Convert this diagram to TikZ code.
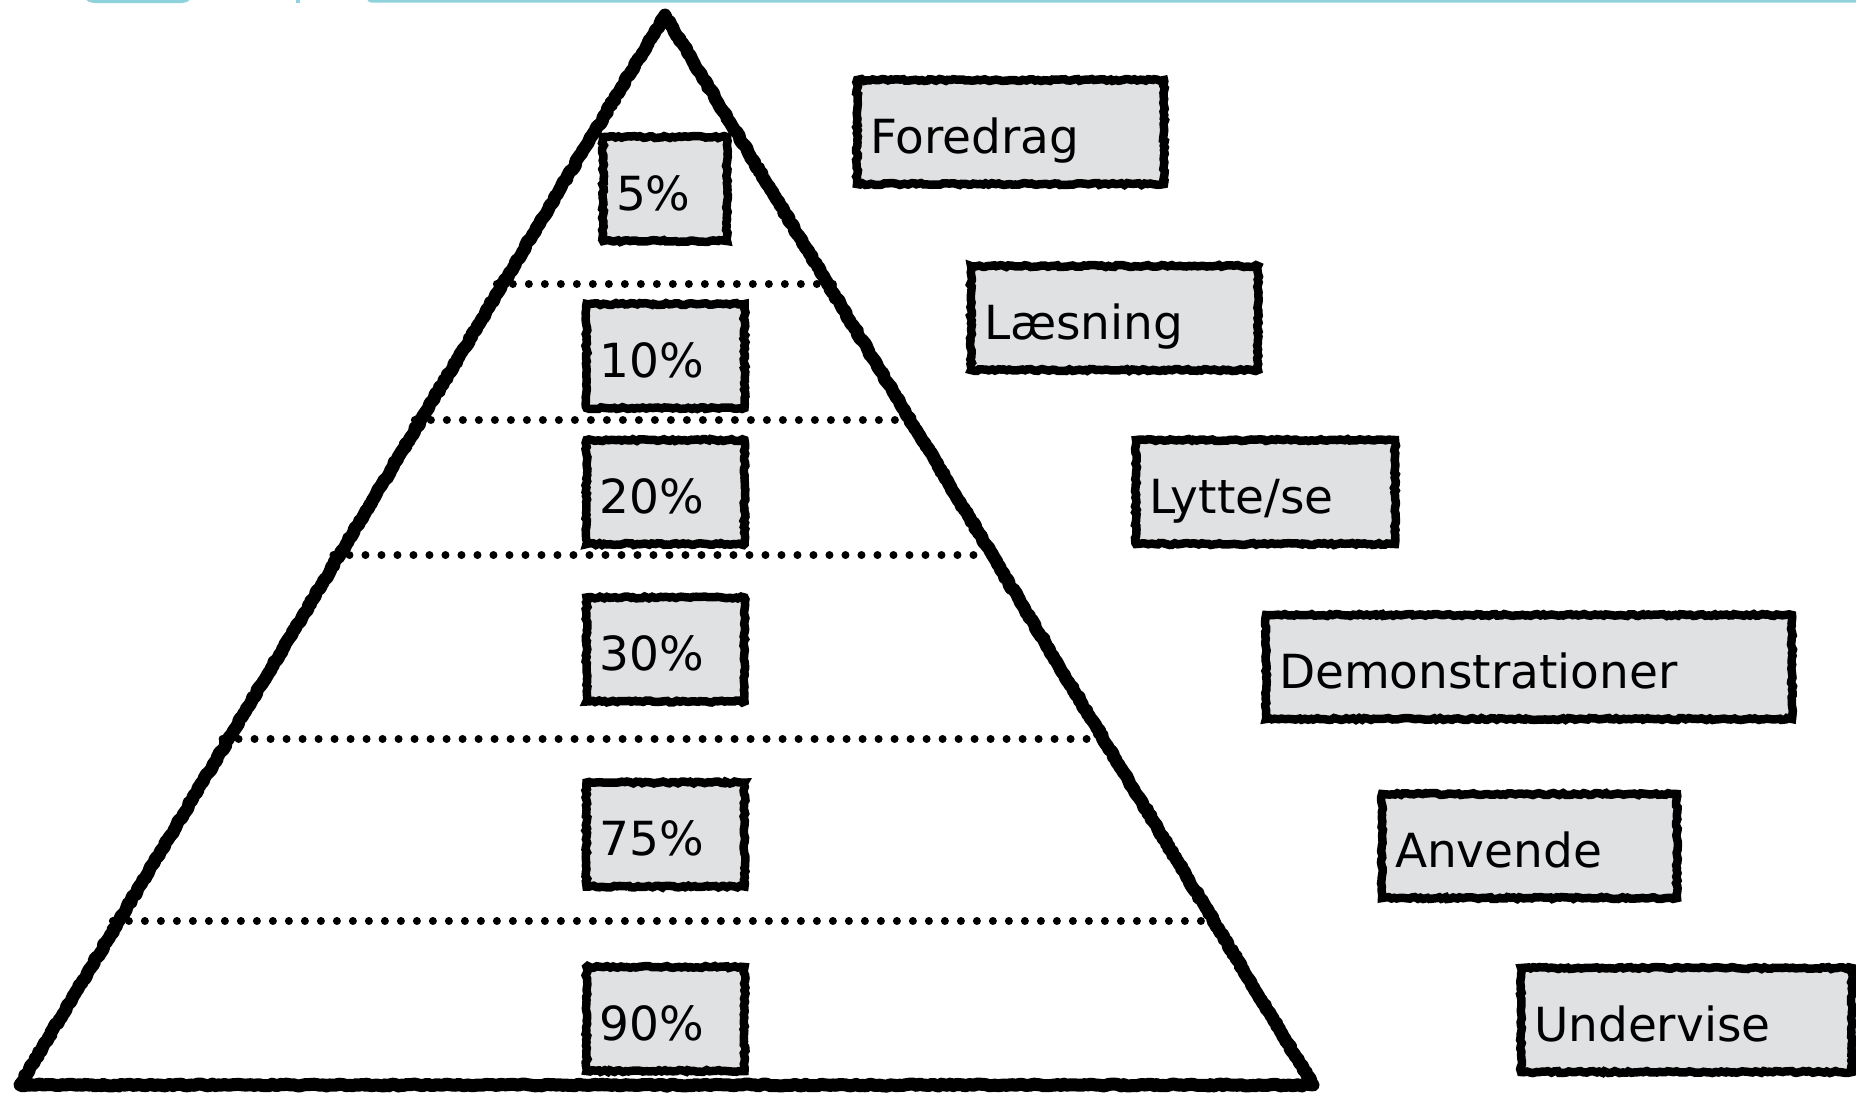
\documentclass[tikz,border=0pt]{standalone}
\usepackage{fontspec}
\setmainfont{DejaVu Sans}
\usetikzlibrary{decorations.pathmorphing,calc}
\definecolor{boxfill}{RGB}{224,225,227}
\definecolor{cyanline}{RGB}{142,211,220}
\begin{document}
\begin{tikzpicture}[x=0.5pt,y=-0.5pt,
  rough/.style={decorate,decoration={random steps,segment length=1.5pt,amplitude=0.5pt}},
  bx/.style={draw=black,line width=4.25pt,fill=boxfill,rough,minimum height=52pt,inner xsep=6.5pt,inner ysep=0pt,align=left,text height=21pt,text depth=0pt,font=\fontsize{23.5}{28}\selectfont},
  dots/.style={line width=4pt,line cap=round,dash pattern=on 0pt off 8pt},
  pyr/.style={line width=6.5pt,line join=round,rough}]
\pgfmathsetseed{7}
\useasboundingbox (0,0) rectangle (1856,1093);
\fill[white] (0,0) rectangle (1856,1093);
\begin{scope}
  \clip (0,0) rectangle (1856,1093);
  \fill[cyanline,rounded corners=6pt] (82,-30) rectangle (194,3);
  \fill[cyanline] (296,-10) rectangle (300,2.5);
  \fill[cyanline,rounded corners=2pt] (367,-10) rectangle (1860,2.5);
\end{scope}
% pyramid
\coordinate (AP) at (665,15);
\coordinate (BL) at (20,1085);
\coordinate (BR) at (1313,1085);
\foreach \t in {0.7486,0.6215,0.4953,0.3234,0.1533}{
  \draw[dots] ($($(BL)!\t!(AP)$)+(-6,0)$) -- ($($(BR)!\t!(AP)$)+(6,0)$);
}
\draw[pyr] (AP) -- (BL) -- (BR) -- cycle;
% percentage boxes
\node[bx,minimum width=62pt,text width=49pt] (p5) at (665,189) {5\%};
\node[bx,minimum width=79pt,text width=66pt] (p10) at (665.5,356) {10\%};
\node[bx,minimum width=79pt,text width=66pt] (p20) at (665.5,492) {20\%};
\node[bx,minimum width=79pt,text width=66pt] (p30) at (665.5,649.5) {30\%};
\node[bx,minimum width=79pt,text width=66pt] (p75) at (665.5,834.5) {75\%};
\node[bx,minimum width=79pt,text width=66pt] (p90) at (665.5,1019) {90\%};
% method boxes
\node[bx,minimum width=153.5pt,text width=140.5pt] (foredrag) at (1010.5,132) {Foredrag};
\node[bx,minimum width=143.5pt,text width=130.5pt] (laesning) at (1114.5,318) {Læsning};
\node[bx,minimum width=129.5pt,text width=116.5pt] (lytte) at (1265.5,492) {Lytte/se};
\node[bx,minimum width=263pt,text width=250pt] (demo) at (1529,667) {Demonstrationer};
\node[bx,minimum width=147.5pt,text width=134.5pt] (anvende) at (1529.5,846) {Anvende};
\node[bx,minimum width=165.5pt,text width=152.5pt] (undervise) at (1686.5,1020) {Undervise};
\end{tikzpicture}
\end{document}
